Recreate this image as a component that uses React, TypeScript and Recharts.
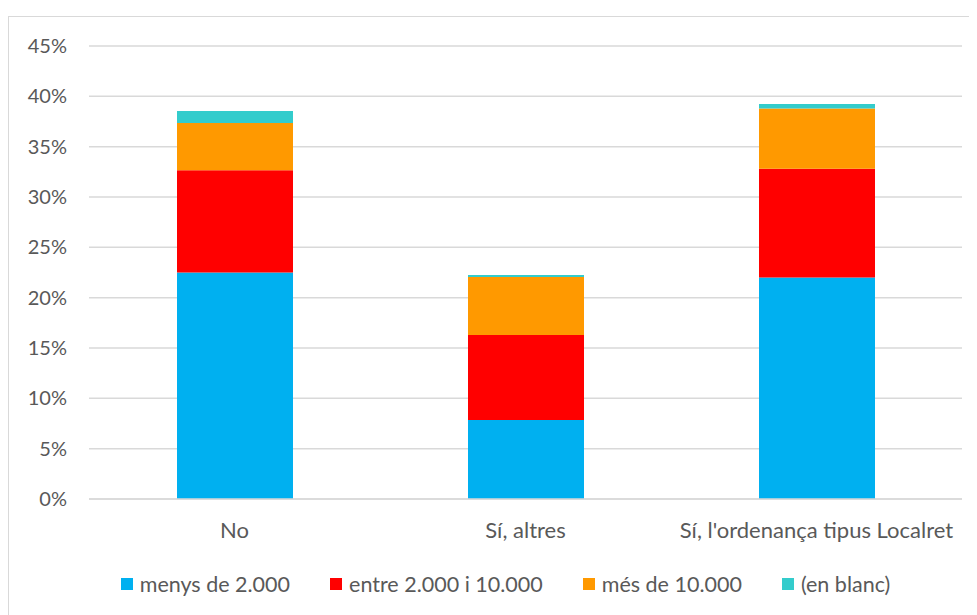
import { BarChart, Bar, XAxis, YAxis, CartesianGrid, Legend } from 'recharts';

const categories = ['No', 'Sí, altres', "Sí, l'ordenança tipus Localret"];
const menys = [22.5, 7.85, 22.0];
const entre = [10.15, 8.45, 10.8];
const mes = [4.7, 5.75, 6.0];
const blanc = [1.2, 0.2, 0.45];
const yTicks = [0, 5, 10, 15, 20, 25, 30, 35, 40, 45];

const SERIES = [
  { key: 'menys', name: 'menys de 2.000', color: '#00B0F0' },
  { key: 'entre', name: 'entre 2.000 i 10.000', color: '#FF0000' },
  { key: 'mes', name: 'més de 10.000', color: '#FF9900' },
  { key: 'blanc', name: '(en blanc)', color: '#33CCCC' },
];

const data = categories.map((name, i) => ({
  name,
  menys: menys[i],
  entre: entre[i],
  mes: mes[i],
  blanc: blanc[i],
}));

const FONT = 'Lato, "Open Sans", sans-serif';
const TEXT = '#595959';

const renderLegend = () => (
  <div style={{ display: 'flex', justifyContent: 'center', gap: 40, fontFamily: FONT, fontSize: 21.5, color: TEXT }}>
    {SERIES.map((s) => (
      <div key={s.key} style={{ display: 'flex', alignItems: 'center' }}>
        <span style={{ width: 12, height: 12, background: s.color, marginRight: 7, display: 'inline-block' }} />
        <span>{s.name}</span>
      </div>
    ))}
  </div>
);

export default function App() {
  return (
    <div style={{ paddingTop: 8 }}>
      <div style={{ width: 992, height: 620, border: '1px solid #d9d9d9', background: '#fff' }}>
        <BarChart
          width={992}
          height={620}
          data={data}
          barSize={116}
          margin={{ top: 29, right: 39, left: 0, bottom: 108 }}
        >
          <CartesianGrid vertical={false} stroke="#d9d9d9" strokeWidth={1.5} />
          <XAxis
            dataKey="name"
            interval={0}
            tickSize={0}
            tickMargin={23}
            axisLine={{ stroke: '#d9d9d9', strokeWidth: 1.5 }}
            tick={{ fontSize: 22, fill: TEXT, fontFamily: FONT }}
          />
          <YAxis
            width={80}
            domain={[0, 45]}
            ticks={yTicks}
            tickSize={0}
            tickMargin={22}
            axisLine={false}
            tickFormatter={(v) => `${v}%`}
            tick={{ fontSize: 20, fill: TEXT, fontFamily: FONT }}
          />
          <Legend
            verticalAlign="middle"
            align="center"
            content={renderLegend}
            wrapperStyle={{ top: 554, left: 20 }}
          />
          {SERIES.map((s) => (
            <Bar key={s.key} dataKey={s.key} name={s.name} stackId="a" fill={s.color} isAnimationActive={false} />
          ))}
        </BarChart>
      </div>
    </div>
  );
}
